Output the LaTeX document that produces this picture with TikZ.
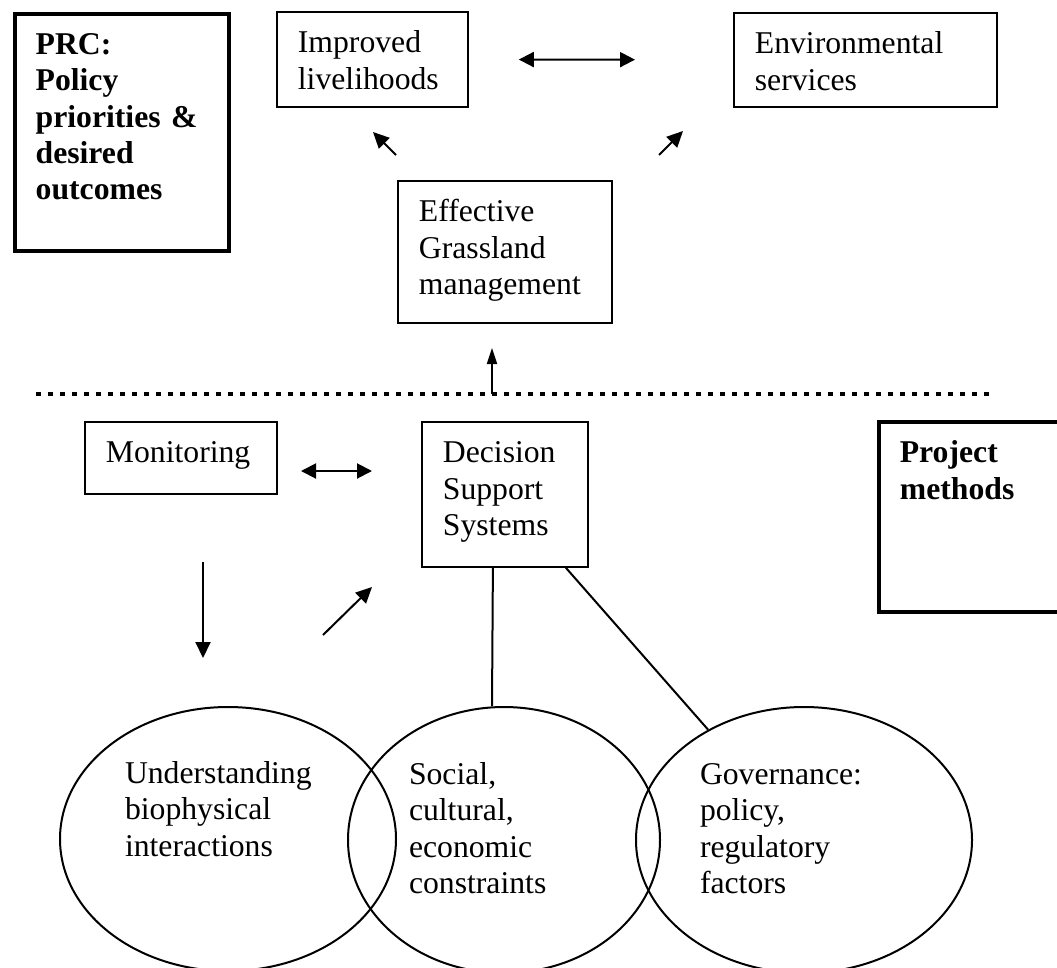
\documentclass[tikz,border=0pt]{standalone}
\usepackage{fontspec}
\setmainfont{Liberation Serif}
\usetikzlibrary{arrows.meta,shapes.geometric}

\begin{document}
\begin{tikzpicture}[x=1pt,y=-1pt,
  font=\fontsize{31.7pt}{36.5pt}\selectfont,
  box/.style={draw,line width=1.8pt,anchor=north west,align=left,inner xsep=21pt,inner ysep=17pt,text height=24pt},
  heavy/.style={box,line width=3.7pt,font=\fontsize{31.7pt}{36.3pt}\selectfont\bfseries},
  oval/.style={ellipse,draw,line width=2pt,align=left,inner sep=0pt,text height=22pt,text depth=134pt},
  arr/.style={line width=2pt,-{Triangle[length=16pt,width=15pt]}},
  dbl/.style={line width=2pt,{Triangle[length=15pt,width=15pt]}-{Triangle[length=15pt,width=15pt]}}]
\useasboundingbox (0,0) rectangle (1057,967);
\path node (prc) at (12.8,11.8) [heavy,text width=172pt,text depth=179pt] {PRC:\\Policy\\priorities \&\\desired\\outcomes}
node (live) at (276,11) [box,text width=149pt,text depth=37pt] {Improved\\livelihoods}
node (env) at (733,12) [box,text width=221pt,text depth=36pt] {Environmental\\services}
node (eff) at (397,180) [box,text width=172pt,text depth=84pt] {Effective\\Grassland\\management}
node (mon) at (84,421) [box,text width=150pt,text depth=14pt] {Monitoring}
node (dss) at (421,421) [box,text width=124pt,text depth=87pt] {Decision\\Support\\Systems}
node (proj) at (877,420) [heavy,text width=156pt,text depth=132pt] {Project\\methods}
node (bio) at (228,839) [oval,minimum width=336pt,minimum height=264pt,text width=206pt] {Understanding\\biophysical\\interactions}
node (soc) at (504,840) [oval,minimum width=312pt,minimum height=266pt,text width=190pt] {Social,\\cultural,\\economic\\constraints}
node (gov) at (804,840) [oval,minimum width=336pt,minimum height=266pt,text width=208pt] {Governance:\\policy,\\regulatory\\factors};
\path coordinate (e1) at (396,155) coordinate (e2) at (373,132)
coordinate (e3) at (659,155) coordinate (e4) at (683,131)
coordinate (d1) at (36,394) coordinate (d2) at (990,394)
coordinate (u1) at (492,394) coordinate (u2) at (492,348)
coordinate (m1) at (301,471) coordinate (m2) at (372,471)
coordinate (b1) at (203,562) coordinate (b2) at (203,658)
coordinate (s1) at (323,635) coordinate (s2) at (372,587);
\draw[dbl,shorten <=50pt,shorten >=98pt] (live) -- (env);
\draw[arr] (e1) -- (e2);
\draw[arr] (e3) -- (e4);
\draw[line width=4pt,dash pattern=on 5pt off 7pt] (d1) -- (d2);
\draw[line width=2pt,-{Triangle[length=16pt,width=10pt]}] (u1) -- (u2);
\draw[dbl] (m1) -- (m2);
\draw[arr] (b1) -- (b2);
\draw[arr] (s1) -- (s2);
\draw[line width=2pt] ([xshift=-12pt]dss.south) -- ([xshift=-12pt]soc.north);
\draw[line width=2pt] ([xshift=61pt]dss.south) -- (gov.131);
\end{tikzpicture}
\end{document}
